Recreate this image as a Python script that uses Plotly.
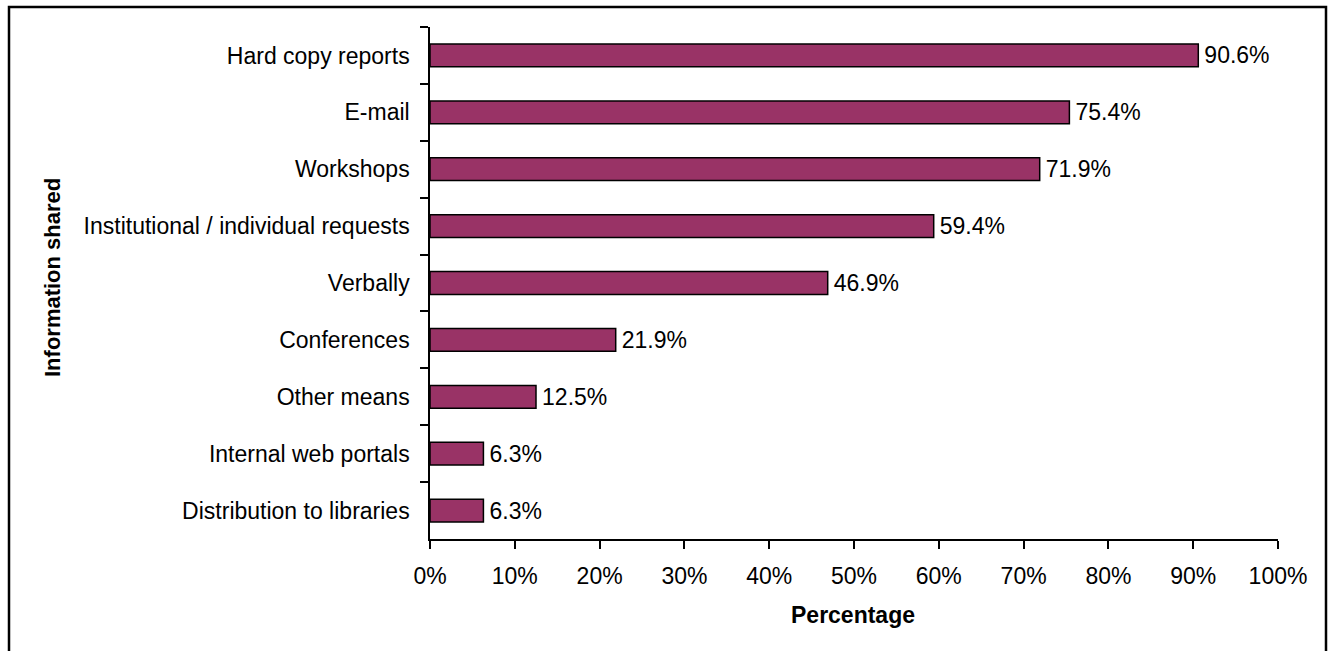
import plotly.graph_objects as go

# Ways in which information is shared, share of respondents (%)
channels = [
    "Hard copy reports",
    "E-mail",
    "Workshops",
    "Institutional / individual requests",
    "Verbally",
    "Conferences",
    "Other means",
    "Internal web portals",
    "Distribution to libraries",
]
shares = [90.6, 75.4, 71.9, 59.4, 46.9, 21.9, 12.5, 6.3, 6.3]
tick_values = [0, 10, 20, 30, 40, 50, 60, 70, 80, 90, 100]
tick_labels = [f"{v}%" for v in tick_values]

FONT = "Liberation Sans, Arial, sans-serif"
BAR_COLOR = "#993366"
FS = 23

W, H = 1331, 651
L, R, T, B = 430, 53, 27, 112
plot_w = W - L - R
plot_h = H - T - B


def px_to_paper_x(px):
    return (px - L) / plot_w


def px_to_paper_y(py):
    return (H - B - py) / plot_h


# small leading gap between bar end and its value label
gap = "<span style='font-size:11px'> </span>"

fig = go.Figure(
    go.Bar(
        x=shares,
        y=channels,
        orientation="h",
        marker=dict(color=BAR_COLOR, line=dict(color="black", width=1.5)),
        text=[f"{gap}{v:.1f}%" for v in shares],
        textposition="outside",
        constraintext="none",
        textfont=dict(family=FONT, size=FS, color="black"),
        cliponaxis=False,
        hoverinfo="skip",
    )
)

axis_common = dict(
    showgrid=False,
    zeroline=False,
    showline=True,
    linecolor="black",
    linewidth=1.5,
    ticks="outside",
    ticklen=8,
    tickwidth=1.5,
    tickcolor="black",
    tickfont=dict(family=FONT, size=FS, color="black"),
    automargin=False,
)

fig.update_layout(
    width=W,
    height=H,
    margin=dict(l=L, r=R, t=T, b=B, autoexpand=False),
    paper_bgcolor="white",
    plot_bgcolor="white",
    bargap=0.6,
    showlegend=False,
    font=dict(family=FONT, size=FS, color="black"),
    xaxis=dict(
        range=[0, 100],
        tickvals=tick_values,
        ticktext=tick_labels,
        ticklabelstandoff=8,
        **axis_common,
    ),
    yaxis=dict(
        type="category",
        categoryorder="array",
        categoryarray=channels,
        autorange="reversed",
        tickson="boundaries",
        ticklabelstandoff=14,
        **axis_common,
    ),
    annotations=[
        dict(
            text="<b>Percentage</b>",
            xref="paper", yref="paper",
            x=px_to_paper_x(853), y=px_to_paper_y(615),
            xanchor="center", yanchor="middle",
            showarrow=False,
            font=dict(family=FONT, size=FS, color="black"),
        ),
        dict(
            text="<b>Information shared</b>",
            xref="paper", yref="paper",
            x=px_to_paper_x(52), y=px_to_paper_y(278),
            xanchor="center", yanchor="middle",
            textangle=-90,
            showarrow=False,
            font=dict(family=FONT, size=22, color="black"),
        ),
    ],
    shapes=[
        dict(
            type="rect",
            xref="paper", yref="paper",
            x0=px_to_paper_x(9), x1=px_to_paper_x(1326),
            y0=px_to_paper_y(670), y1=px_to_paper_y(7),
            line=dict(color="black", width=2.5),
            fillcolor="rgba(0,0,0,0)",
            layer="below",
        )
    ],
)

fig.write_html("out.html")
